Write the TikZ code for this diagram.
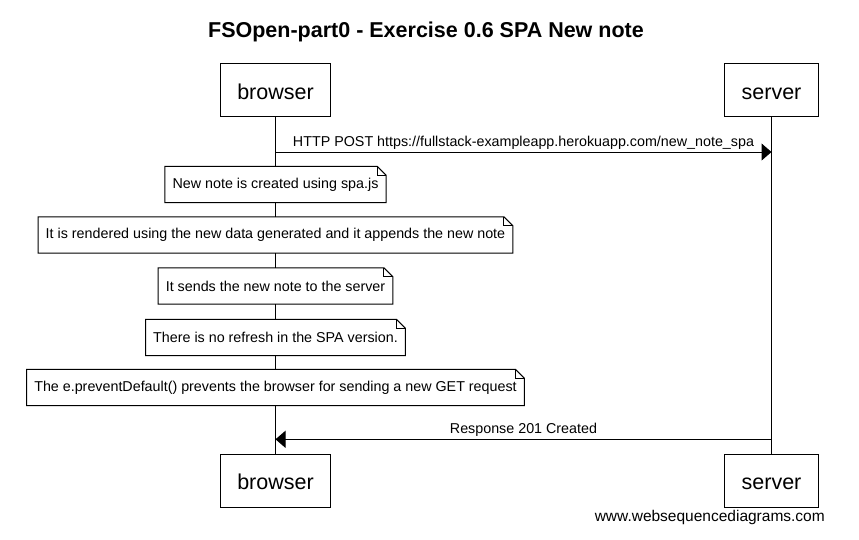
\documentclass[tikz,border=0pt]{standalone}
\usepackage{fontspec}
\setmainfont{Liberation Sans}
\usetikzlibrary{arrows.meta}

\begin{document}
\begin{tikzpicture}[x=1pt,y=-1pt,
    actorbox/.style={draw,line width=1pt,inner xsep=17pt,minimum height=53pt,text height=18pt,text depth=0pt,font=\fontsize{21.5pt}{24pt}\selectfont},
    notebox/.style={fill=white,inner xsep=7.5pt,minimum height=36pt,font=\fontsize{14.3pt}{16pt}\selectfont},
    msg/.style={line width=1pt,-{Triangle[length=10pt,width=17pt]}},
    msglabel/.style={above,inner sep=2pt,font=\fontsize{14.3pt}{16pt}\selectfont}]
  \useasboundingbox (0,0) rectangle (859,539);
  % title
  \node [anchor=base,font=\bfseries\fontsize{21.5pt}{24pt}\selectfont] (title) at (426,37.3) {FSOpen-part0 - Exercise 0.6 SPA New note};
  % participants top
  \node [actorbox] (bt) at (275.5,90) {browser};
  \node [actorbox] (st) at (771.5,90) {server};
  % participants bottom
  \node [actorbox] (bb) at (275.5,480.9) {browser};
  \node [actorbox] (sb) at (771.5,480.9) {server};
  % lifelines
  \draw [line width=1pt] (bt.south) -- (bb.north);
  \draw [line width=1pt] (st.south) -- (sb.north);
  % request
  \coordinate (b1) at (275.5,152);
  \coordinate (s1) at (771.5,152);
  \draw [msg] (b1) -- node [msglabel] {HTTP POST https://fullstack-exampleapp.herokuapp.com/new\_note\_spa} (s1);
  % notes over browser
  \node [notebox] (n1) at (275.5,184.5) {New note is created using spa.js};
  \node [notebox] (n2) at (275.5,235) {It is rendered using the new data generated and it appends the new note};
  \node [notebox] (n3) at (275.5,286) {It sends the new note to the server};
  \node [notebox] (n4) at (275.5,337.5) {There is no refresh in the SPA version.};
  \node [notebox] (n5) at (275.5,387.5) {The e.preventDefault() prevents the browser for sending a new GET request};
  \foreach \n in {n1,n2,n3,n4,n5} {
    \draw [line width=1pt] (\n.south west) -- (\n.north west) -- ([xshift=-9pt]\n.north east) -- ([yshift=-9pt]\n.north east) -- (\n.south east) -- cycle;
    \draw [line width=1pt] ([xshift=-9pt]\n.north east) |- ([yshift=-9pt]\n.north east);
  }
  % response
  \coordinate (s2) at (771.5,439.3);
  \coordinate (b2) at (275.5,439.3);
  \draw [msg] (s2) -- node [msglabel] {Response 201 Created} (b2);
  % footer
  \node [anchor=base east,inner sep=0pt,font=\fontsize{15.5pt}{18pt}\selectfont] (credit) at (825,521.7) {www.websequencediagrams.com};
\end{tikzpicture}
\end{document}
